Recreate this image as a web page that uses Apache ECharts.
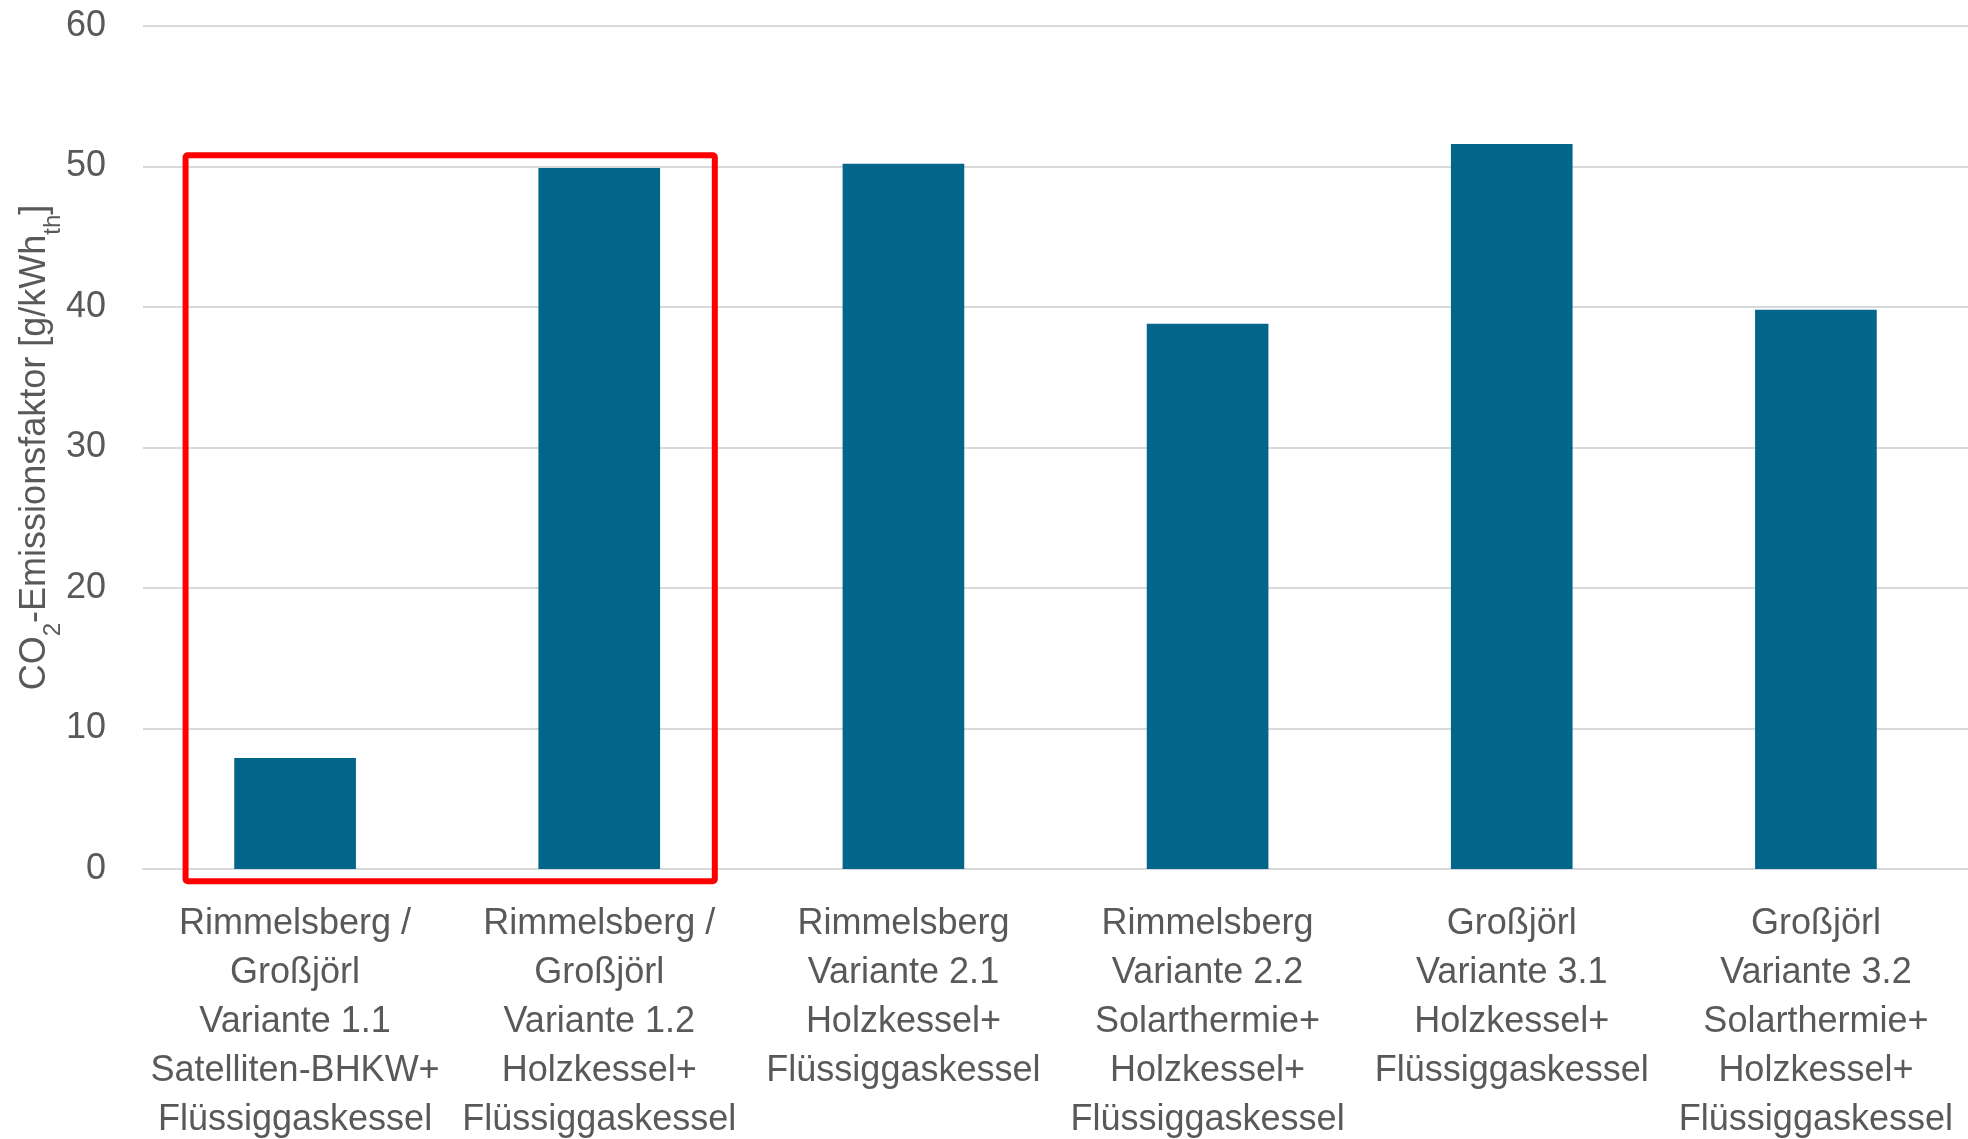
<!DOCTYPE html>
<html>
<head>
<meta charset="utf-8">
<script src="https://cdn.jsdelivr.net/npm/echarts@6/dist/echarts.min.js"></script>
<style>
  html, body { margin: 0; padding: 0; background: #ffffff; }
  #chart { width: 1968px; height: 1139px; }
</style>
</head>
<body>
<div id="chart"></div>
<script>
// CO2 emission factor per heat-supply variant
const categories = [
  'Rimmelsberg /\nGroßjörl\nVariante 1.1\nSatelliten-BHKW+\nFlüssiggaskessel',
  'Rimmelsberg /\nGroßjörl\nVariante 1.2\nHolzkessel+\nFlüssiggaskessel',
  'Rimmelsberg\nVariante 2.1\nHolzkessel+\nFlüssiggaskessel',
  'Rimmelsberg\nVariante 2.2\nSolarthermie+\nHolzkessel+\nFlüssiggaskessel',
  'Großjörl\nVariante 3.1\nHolzkessel+\nFlüssiggaskessel',
  'Großjörl\nVariante 3.2\nSolarthermie+\nHolzkessel+\nFlüssiggaskessel'
];
const emissionFactor = [7.9, 49.9, 50.2, 38.8, 51.6, 39.8];
const yTicks = { min: 0, max: 60, interval: 10 };

// Highlighted group: the first two variants (category indices, y-range in g/kWh)
const highlightFrom = 0;
const highlightTo = 1;
const highlightYTop = 50.8;
const highlightYBottom = -0.87;

const FONT = "'Liberation Sans Narrow', 'Arial Narrow', 'Liberation Sans', Arial, sans-serif";
const TEXT = '#595959';

const chart = echarts.init(document.getElementById('chart'), null, { renderer: 'canvas' });

chart.setOption({
  backgroundColor: '#ffffff',
  animation: false,
  grid: {
    left: 143, right: 0, top: 26, bottom: 270,
    containLabel: false,
    outerBoundsMode: 'none'
  },
  xAxis: {
    type: 'category',
    data: categories,
    axisLine: { show: true, lineStyle: { color: '#d9d9d9', width: 2 } },
    axisTick: { show: false },
    axisLabel: {
      interval: 0,
      margin: 31,
      color: TEXT,
      fontFamily: FONT,
      fontSize: 36,
      lineHeight: 49,
      align: 'center'
    }
  },
  yAxis: {
    type: 'value',
    min: yTicks.min,
    max: yTicks.max,
    interval: yTicks.interval,
    axisLine: { show: false },
    axisTick: { show: false },
    splitLine: { lineStyle: { color: '#d9d9d9', width: 2 } },
    axisLabel: { color: TEXT, fontFamily: FONT, fontSize: 36, margin: 37 },
    name: 'CO{sub|2}-Emissionsfaktor [g/kWh{sub|th}]',
    nameLocation: 'middle',
    nameGap: 88,
    nameMoveOverlap: false,
    nameRotate: 90,
    nameTextStyle: {
      color: TEXT,
      fontFamily: FONT,
      fontSize: 36,
      lineHeight: 40,
      rich: {
        sub: {
          color: TEXT,
          fontFamily: FONT,
          fontSize: 24,
          lineHeight: 24,
          verticalAlign: 'bottom',
          padding: [0, 0, -10, 0]
        }
      }
    }
  },
  series: [{
    type: 'bar',
    data: emissionFactor,
    barWidth: '40%',
    itemStyle: { color: '#02668A' }
  }]
});

// Red frame around the first two variants, placed via the axes' own scales
function drawFrame() {
  const x0 = chart.convertToPixel({ xAxisIndex: 0 }, highlightFrom);
  const x1 = chart.convertToPixel({ xAxisIndex: 0 }, highlightTo);
  const band = highlightTo > highlightFrom ? (x1 - x0) / (highlightTo - highlightFrom) : 304;
  const left = x0 - 0.36 * band;
  const right = x1 + 0.38 * band;
  const top = chart.convertToPixel({ yAxisIndex: 0 }, highlightYTop);
  const bottom = chart.convertToPixel({ yAxisIndex: 0 }, highlightYBottom);
  chart.setOption({
    graphic: [{
      type: 'rect',
      z: 100,
      shape: { x: left, y: top, width: right - left, height: bottom - top, r: 2 },
      style: { fill: null, stroke: '#ff0000', lineWidth: 6, lineJoin: 'round' }
    }]
  });
}
drawFrame();
</script>
</body>
</html>
